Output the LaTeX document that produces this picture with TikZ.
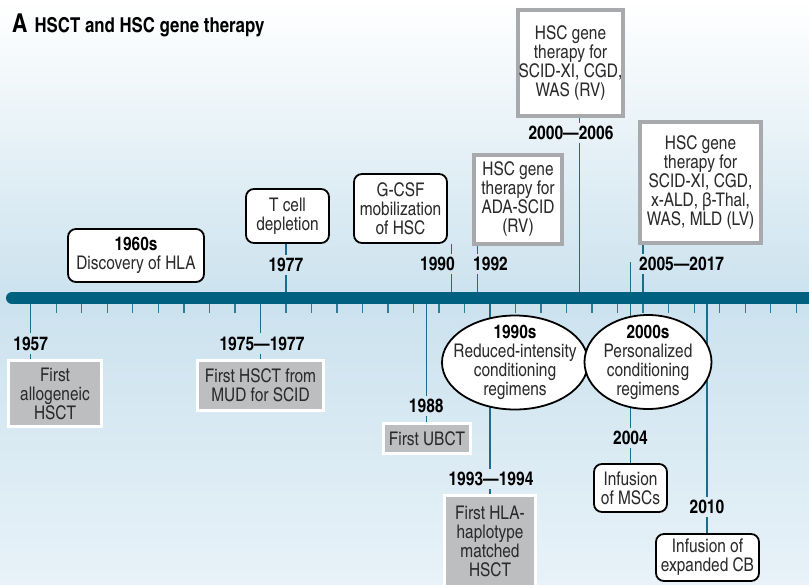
\documentclass[tikz,border=0pt]{standalone}
\usepackage{fontspec}
\setmainfont{texgyreheroscn}[Extension=.otf, UprightFont=*-regular, BoldFont=*-bold]
\usetikzlibrary{shapes.geometric}
\definecolor{barblue}{HTML}{00607F}
\definecolor{lineblue}{HTML}{1C6D8C}
\definecolor{tickblue}{HTML}{2F7C99}
\definecolor{bgblue}{HTML}{CBE2EE}
\definecolor{bglight}{HTML}{E8F2F8}
\definecolor{boxgray}{HTML}{BDBEC0}
\definecolor{genegray}{HTML}{A7A9AC}
\definecolor{txtgray}{HTML}{2B2B2B}
\newcommand{\yx}[1]{30.7+(#1-1957)*12.76}
\newcommand{\yrtext}[1]{{\fontsize{18.8}{19}\selectfont\bfseries\color{black}#1}}

\begin{document}
\begin{tikzpicture}[x=1pt,y=-1pt,
  every node/.style={font=\fontsize{18.8}{19}\selectfont, text=txtgray, align=center, inner sep=0pt},
  yearlbl/.style={font=\fontsize{19}{19}\selectfont\bfseries, text=black, inner ysep=3pt, inner xsep=1pt},
  graybox/.style={fill=boxgray, draw=white, line width=3pt},
  genebox/.style={fill=white, draw=genegray, line width=4pt},
  roundbox/.style={fill=white, draw=black, line width=1.8pt, rounded corners=8pt},
  ovalbox/.style={ellipse, fill=white, draw=black, line width=1.8pt},
  yearline/.style={draw=lineblue, line width=1.4pt},
  minortick/.style={draw=tickblue, line width=1.4pt}]

\useasboundingbox (0,0) rectangle (809,584);
\shade[top color=white, bottom color=bgblue] (0,0) rectangle (809,300);
\shade[top color=bgblue, bottom color=bglight] (0,300) rectangle (809,584);

% timeline
\draw[barblue, line width=12pt, line cap=round] (12,298) -- (830,298);
\foreach \t in {1959,1961,...,2017}
  \draw[minortick] ({\yx{\t}},304) -- ++(0,9);
\foreach \yr in {1957,1975,1988,1993,2004,2010}
  \coordinate (bot\yr) at ({\yx{\yr}},304);
\foreach \yr in {1977,1990,1992,2000,2004,2005}
  \coordinate (top\yr) at ({\yx{\yr}},292);
\coordinate (stub2004) at ({\yx{2004}},262);

\node[anchor=base west, font=\fontsize{20.5}{22}\selectfont\bfseries, text=black] (title) at (12,32)
  {{\fontsize{26}{26}\selectfont A}\hspace{7pt}HSCT and HSC gene therapy};

% above the line
\node[roundbox, minimum width=136, minimum height=53] (hla) at (136,255.5) {\yrtext{1960s}\\Discovery of HLA};
\node[roundbox, minimum width=83, minimum height=54] (tcell) at (287.5,216) {T cell\\depletion};
\node[roundbox, minimum width=93, minimum height=69] (gcsf) at (400.5,208.5) {G-CSF\\mobilization\\of HSC};
\node[genebox, minimum width=88, minimum height=89] (ada) at (518,199.5) {HSC gene\\therapy for\\ADA-SCID\\(RV)};
\node[genebox, minimum width=105, minimum height=106] (gt2000) at (570.5,63) {HSC gene\\therapy for\\SCID-XI, CGD,\\WAS (RV)};
\node[genebox, minimum width=121, minimum height=121] (gt2005) at (700.5,182.5) {HSC gene\\therapy for\\SCID-XI, CGD,\\x-ALD, β-Thal,\\WAS, MLD (LV)};

\node[yearlbl] (l1977) at ({\yx{1977}},265) {1977};
\node[yearlbl, anchor=east] (l1990) at (456,264) {1990};
\node[yearlbl, anchor=west] (l1992) at (472,264) {1992};
\node[yearlbl] (l2000) at (571,133) {2000—2006};
\node[yearlbl, anchor=west] (l2005) at (638,264) {2005—2017};

% below the line
\node[graybox, minimum width=93, minimum height=66] (allo) at (55,393.5) {First\\allogeneic\\HSCT};
\node[graybox, minimum width=126, minimum height=50] (mud) at (260.5,385.5) {First HSCT from\\MUD for SCID};
\node[graybox, minimum width=87, minimum height=30] (ubct) at (427,438.5) {First UBCT};
\node[graybox, minimum width=91, minimum height=92] (haplo) at (490,541) {First HLA-\\haplotype\\matched\\HSCT};
\node[roundbox, minimum width=73, minimum height=48] (msc) at (630.5,488) {Infusion\\of MSCs};
\node[roundbox, minimum width=103, minimum height=47] (cb) at (707.5,557.5) {Infusion of\\expanded CB};

\node[yearlbl] (l1957) at ({\yx{1957}},343.5) {1957};
\node[yearlbl] (l1975) at (262,343.5) {1975—1977};
\node[yearlbl] (l1988) at ({\yx{1988}},406) {1988};
\node[yearlbl] (l1993) at (491,479) {1993—1994};
\node[yearlbl] (l2004) at ({\yx{2004}},438) {2004};
\node[yearlbl] (l2010) at ({\yx{2010}},507) {2010};

% year lines
\foreach \yr/\bx in {1957/allo,1975/mud,1988/ubct,1993/haplo,2004/msc,2010/cb}
  \draw[yearline] (bot\yr) -- (bot\yr |- l\yr.north) (bot\yr |- l\yr.south) -- (bot\yr |- \bx.north);
\foreach \yr/\bx in {1977/tcell,1990/gcsf,1992/ada,2000/gt2000,2005/gt2005}
  \draw[yearline] (top\yr) -- (top\yr |- l\yr.south) (top\yr |- l\yr.north) -- (top\yr |- \bx.south);
\draw[yearline] (top2004) -- (stub2004);

% conditioning regimens
\node[ovalbox, minimum width=146, minimum height=94] (cond1990) at (515,362.5) {};
\node[ovalbox, minimum width=127, minimum height=94] (cond2000) at (648,362) {};
\node (txt1990) at (cond1990) {\yrtext{1990s}\\Reduced-intensity\\conditioning\\regimens};
\node (txt2000) at (cond2000) {\yrtext{2000s}\\Personalized\\conditioning\\regimens};

\end{tikzpicture}
\end{document}
